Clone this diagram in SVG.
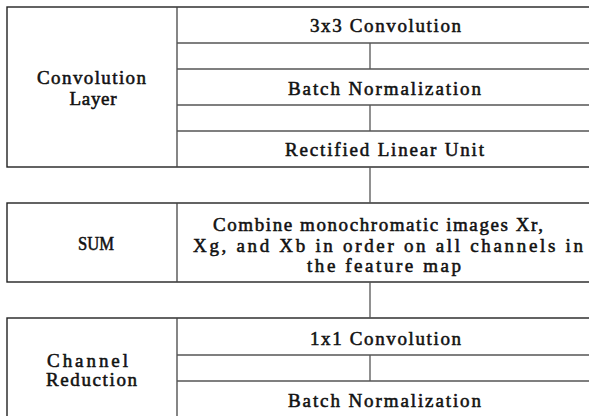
<svg xmlns="http://www.w3.org/2000/svg" width="589" height="416" viewBox="0 0 589 416">
<style>
.box{fill:none;stroke:#222;stroke-width:1.4}
.div{stroke:#444;stroke-width:1.3}
.row{stroke:#555;stroke-width:1.3}
.conn{stroke:#555;stroke-width:1.3;fill:none}
text{font-family:"Liberation Serif","Times New Roman",serif;font-size:19px;fill:#111;stroke:#111;stroke-width:0.55}
</style>
<rect width="589" height="416" fill="#fff"/>
<g id="convolution-layer">
<rect class="box" x="7" y="7" width="600" height="160"/>
<line class="div" x1="177" y1="7" x2="177" y2="167"/>
<text x="37" y="84" textLength="109" lengthAdjust="spacing">Convolution</text>
<text x="69.5" y="105" textLength="47" lengthAdjust="spacing">Layer</text>
</g>
<g id="conv3x3">
<line class="row" x1="177" y1="43" x2="589" y2="43"/>
<text x="310" y="32" textLength="151" lengthAdjust="spacing">3x3  Convolution</text>
</g>
<g id="batchnorm1">
<line class="row" x1="177" y1="69" x2="589" y2="69"/>
<line class="row" x1="177" y1="105" x2="589" y2="105"/>
<text x="288" y="95" textLength="193" lengthAdjust="spacing">Batch  Normalization</text>
</g>
<g id="relu">
<line class="row" x1="177" y1="131" x2="589" y2="131"/>
<text x="285" y="156" textLength="199" lengthAdjust="spacing">Rectified  Linear  Unit</text>
</g>
<g id="sum">
<rect class="box" x="7" y="203" width="600" height="79"/>
<line class="div" x1="177" y1="203" x2="177" y2="282"/>
<text x="78" y="249.5" textLength="36" lengthAdjust="spacingAndGlyphs" style="font-size:18.5px">SUM</text>
</g>
<g id="combine">
<text x="213" y="230.5" textLength="330" lengthAdjust="spacing">Combine  monochromatic  images  Xr,</text>
<text x="193" y="251.5" textLength="390" lengthAdjust="spacing">Xg,  and  Xb  in  order  on  all  channels  in</text>
<text x="307" y="272" textLength="154" lengthAdjust="spacing">the  feature  map</text>
</g>
<g id="channel-reduction">
<rect class="box" x="7" y="318" width="600" height="110"/>
<line class="div" x1="177" y1="318" x2="177" y2="428"/>
<text x="47" y="367" textLength="81" lengthAdjust="spacing">Channel</text>
<text x="46" y="386" textLength="91" lengthAdjust="spacing">Reduction</text>
</g>
<g id="conv1x1">
<line class="row" x1="177" y1="355" x2="589" y2="355"/>
<text x="310" y="345" textLength="151" lengthAdjust="spacing">1x1  Convolution</text>
</g>
<g id="batchnorm2">
<line class="row" x1="177" y1="381" x2="589" y2="381"/>
<text x="288" y="407" textLength="193" lengthAdjust="spacing">Batch  Normalization</text>
</g>
<g id="connectors">
<line class="conn" x1="370" y1="43" x2="370" y2="69"/>
<line class="conn" x1="370" y1="105" x2="370" y2="131"/>
<line class="conn" x1="370" y1="167" x2="370" y2="203"/>
<line class="conn" x1="370" y1="282" x2="370" y2="318"/>
<line class="conn" x1="370" y1="355" x2="370" y2="381"/>
</g>
</svg>
